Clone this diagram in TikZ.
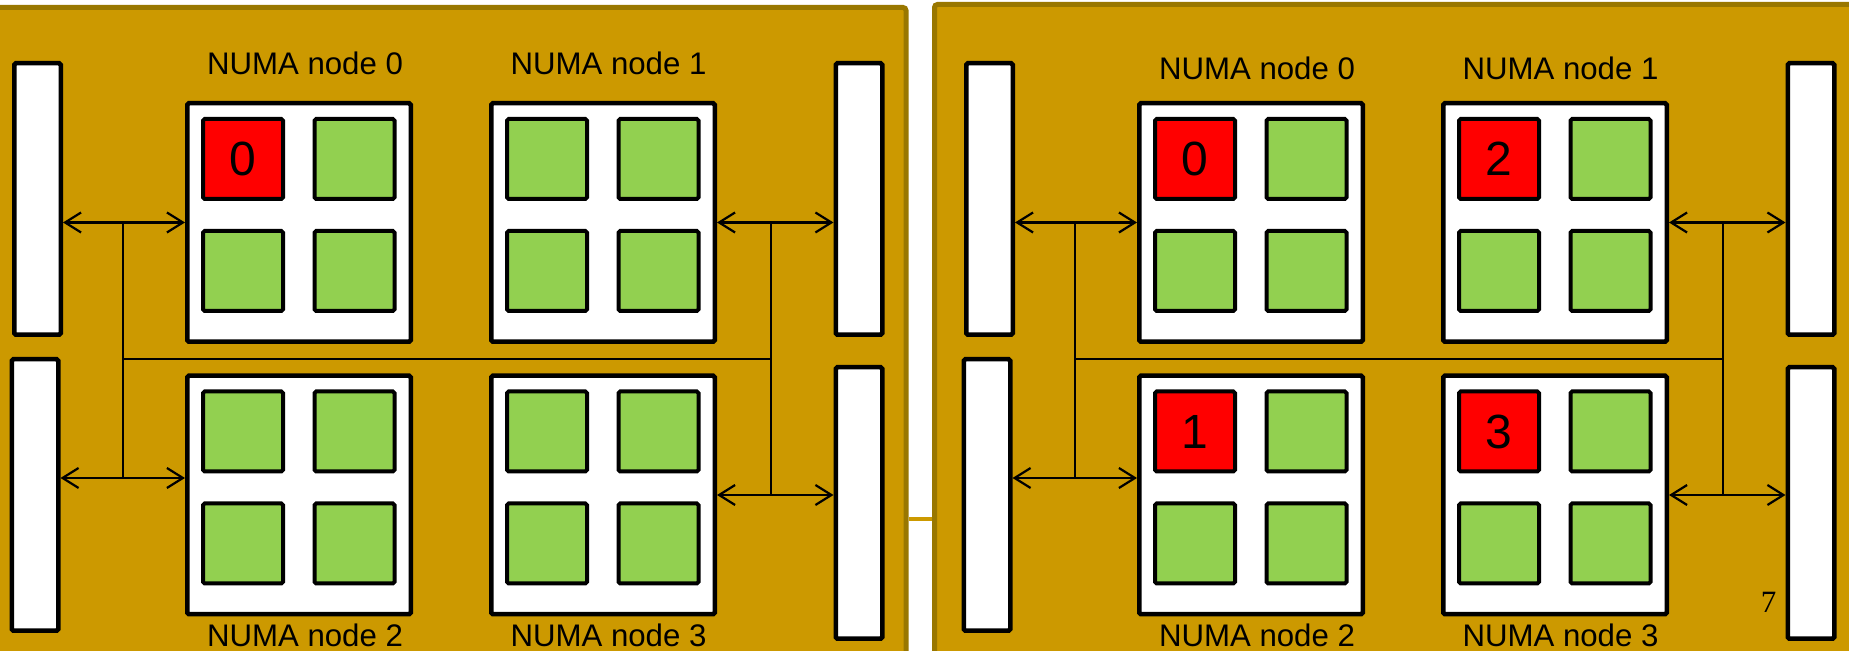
\documentclass[tikz,border=0pt]{standalone}
\usepackage{fontspec}
\setmainfont{Liberation Sans}
\newfontfamily\serifnum{Liberation Serif}
\usetikzlibrary{arrows.meta}
\definecolor{gold}{HTML}{CC9900}
\definecolor{goldedge}{HTML}{997700}
\definecolor{coregreen}{HTML}{92D050}
\definecolor{corered}{HTML}{FF0000}
\tikzset{
  panel/.style={fill=gold, draw=goldedge, line width=2.5pt, rounded corners=1.5pt},
  bar/.style={draw=black, fill=white, line width=2.25pt, rectangle, inner sep=0pt,
    minimum width=23.25pt, minimum height=135.75pt, rounded corners=0.8pt},
  numabox/.style={draw=black, fill=white, line width=2.25pt, rectangle, inner sep=0pt,
    minimum width=111.75pt, minimum height=119.25pt, rounded corners=0.8pt},
  core/.style={draw=black, fill=coregreen, line width=2pt, rectangle, inner sep=0pt,
    minimum size=40pt, rounded corners=0.8pt},
  hot/.style={fill=corered, font=\fontsize{24}{24}\selectfont},
  lbl/.style={font=\fontsize{15.6}{18}\selectfont, inner sep=0pt, anchor=base},
  link/.style={draw=black, line width=1.1pt},
  dlink/.style={link, {Straight Barb[length=8pt,width=10pt]}-{Straight Barb[length=8pt,width=10pt]}},
  pagenum/.style={font=\serifnum\fontsize{15.5}{16}\selectfont, inner sep=0pt, anchor=base}
}
% name, x, y, text of the first (hot) core; empty = plain green
\newcommand\numaquad[4]{%
  \node[numabox] (#1) at (#2,#3) {};
  \if\relax\detokenize{#4}\relax
    \node[core] (#1-a) at ([shift={(-56,-63.5)}]#1.center) {};
  \else
    \node[core, hot] (#1-a) at ([shift={(-56,-63.5)}]#1.center) {#4};
  \fi
  \node[core] (#1-b) at ([shift={(55.5,-63.5)}]#1.center) {};
  \node[core] (#1-c) at ([shift={(-56,48.5)}]#1.center) {};
  \node[core] (#1-d) at ([shift={(55.5,48.5)}]#1.center) {};
}
% prefix, dx, t0, t1, t2, t3, top label baseline
\newcommand\drawpanel[7]{%
  \begin{scope}[shift={(#2,0)}]
    \node[bar] (#1-tl) at (37.5,199) {};
    \node[bar] (#1-bl) at (35,495) {};
    \node[bar] (#1-tr) at (859,199) {};
    \node[bar] (#1-br) at (859,503) {};
    \numaquad{#1-n0}{299}{222.5}{#3}
    \numaquad{#1-n1}{603}{222.5}{#4}
    \numaquad{#1-n2}{299}{495}{#5}
    \numaquad{#1-n3}{603}{495}{#6}
    \node[lbl] (#1-l0) at (305,#7) {NUMA node 0};
    \node[lbl] (#1-l1) at (608.5,#7) {NUMA node 1};
    \node[lbl] (#1-l2) at (305,647) {NUMA node 2};
    \node[lbl] (#1-l3) at (608.5,647) {NUMA node 3};
    \coordinate (#1-jl) at (123,359);
    \coordinate (#1-jr) at (771,359);
    \coordinate (#1-jbl) at (123,478);
    \draw[dlink] (#1-n0.west -| #1-tl.east) -- (#1-n0.west);
    \draw[dlink] (#1-jbl -| #1-bl.east) -- (#1-jbl -| #1-n2.west);
    \draw[dlink] (#1-n1.east) -- (#1-n1.east -| #1-tr.west);
    \draw[dlink] (#1-n3.east) -- (#1-n3.east -| #1-br.west);
    \draw[link] (#1-jl |- #1-n0.west) -- (#1-jbl);
    \draw[link] (#1-jr |- #1-n1.east) -- (#1-jr |- #1-n3.east);
    \draw[link] (#1-jl) -- (#1-jr);
  \end{scope}
}
\begin{document}
\begin{tikzpicture}[x=0.5pt, y=-0.5pt]
  \fill[white] (0,0) rectangle (1849,651);
  \useasboundingbox (0,0) rectangle (1849,651);
  \draw[panel] (-30,7.5) rectangle (906,720);
  \draw[panel] (934.5,4.5) rectangle (1900,720);
  \fill[gold] (908.5,517) rectangle (932,521.5);
  \drawpanel{L}{0}{0}{}{}{}{75}
  \drawpanel{R}{952}{0}{2}{1}{3}{80}
  \node[pagenum] (pg) at (1768.5,613) {7};
\end{tikzpicture}
\end{document}
